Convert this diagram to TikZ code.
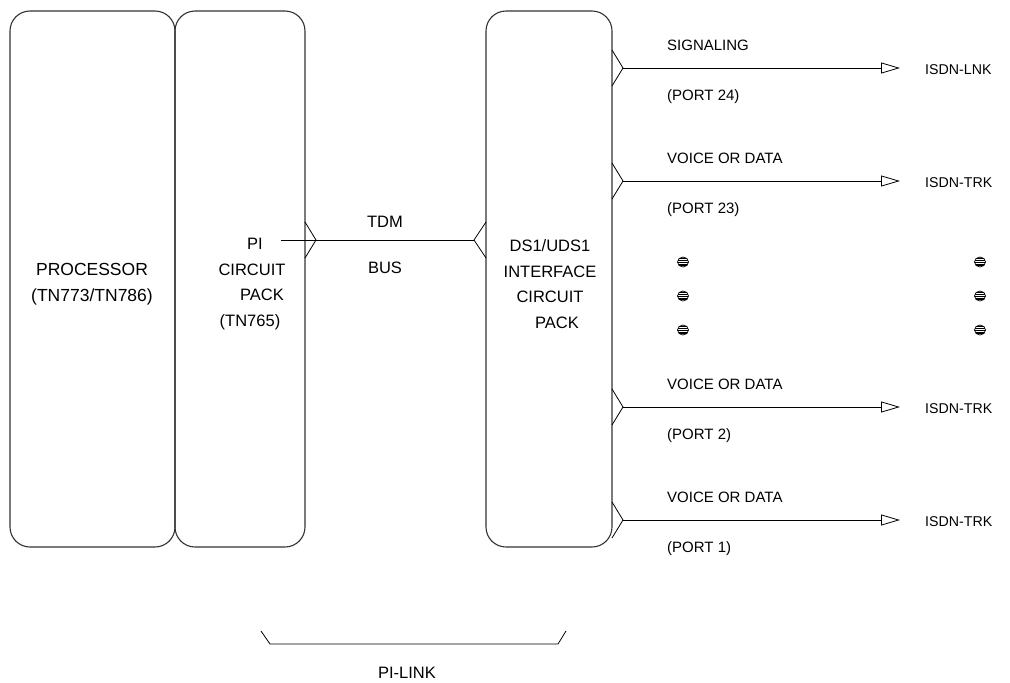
\documentclass[tikz,border=0pt]{standalone}
\usepackage{fontspec}
\setmainfont{Liberation Sans}
\usetikzlibrary{arrows.meta, positioning}

\begin{document}
\begin{tikzpicture}[x=1pt, y=-1pt, >={Triangle[open, length=19pt, width=11pt]},
  card/.style={draw=black!80, line width=1.1pt, rounded corners=20pt,
    minimum height=536pt, inner sep=0pt, outer sep=0pt},
  lbl/.style={font=\fontsize{15}{25.5}\selectfont, align=center, inner sep=0pt},
  biglbl/.style={lbl, font=\fontsize{16.5}{25.5}\selectfont},
  wire/.style={line width=0.8pt}]
  \useasboundingbox (0,0) rectangle (1010,683);

  % the three cards
  \node[card, minimum width=165pt, anchor=north west] (proc) at (10,11) {};
  \node[card, minimum width=130pt, right=0pt of proc] (pi) {};
  \node[card, minimum width=126pt, anchor=north west] (ds1) at (486,11) {};

  \node[biglbl, font=\fontsize{17.5}{25.5}\selectfont] (proctxt) at (92,284) {PROCESSOR\\(TN773/TN786)};
  \node[biglbl] (pitxt) at (252,284) {\hspace*{6pt}PI\\CIRCUIT\\\hspace*{20pt}PACK\\(TN765)\hspace*{4pt}};
  \node[biglbl] (dstxt) at (550,284) {DS1/UDS1\\INTERFACE\\CIRCUIT\\\hspace*{14pt}PACK};

  % TDM bus
  \coordinate (tdmin) at (281,240);
  \coordinate (pifork) at (316,240);
  \coordinate (dsfork) at (474,240);
  \draw[wire] (pi.east |- 0,222) -- (pifork) -- (pi.east |- 0,258);
  \draw[wire] (ds1.west |- 0,222) -- (dsfork) -- (ds1.west |- 0,258);
  \draw[wire] (tdmin) -- (dsfork);
  \node[biglbl] (tdm) at (385,222) {TDM};
  \node[biglbl] (bus) at (385,268) {BUS};

  % ports
  \foreach \y/\upper/\lower/\dest [count=\i] in
    {68/SIGNALING/(PORT 24)/ISDN-LNK,
     181/VOICE OR DATA/(PORT 23)/ISDN-TRK,
     407/VOICE OR DATA/(PORT 2)/ISDN-TRK,
     520/VOICE OR DATA/(PORT 1)/ISDN-TRK}{
    \coordinate (fork\i) at (623,\y);
    \node[lbl, font=\fontsize{14.2}{17}\selectfont, anchor=west] (dest\i) at (925,\y+2) {\dest};
    \node[lbl, anchor=west] (upper\i) at (667,\y-23) {\upper};
    \node[lbl, anchor=west] (lower\i) at (667,\y+29) {\lower};
    \draw[wire] (ds1.east |- 0,\y-18) -- (fork\i) -- (ds1.east |- 0,\y+18);
    \draw[wire, ->, shorten >=25pt] (fork\i) -- (fork\i -| dest\i.west);
  }

  % elided ports
  \foreach \x in {683,980}
    \foreach \y in {262,296,330}{
      \begin{scope}
        \clip (\x,\y) ellipse (5.5pt and 5pt);
        \foreach \k in {-3.6,-1.8,0,1.8,3.6}
          \draw[line width=0.5pt] (\x-6,\y+\k) -- (\x+6,\y+\k);
      \end{scope}
      \draw[line width=0.7pt] (\x,\y) ellipse (5.5pt and 5pt);
    }

  % PI-LINK bracket
  \draw[wire] (261,631) -- (270,644) -- (558,644) -- (566,631);
  \node[biglbl] (pilink) at (407,673) {PI-LINK};
\end{tikzpicture}
\end{document}
